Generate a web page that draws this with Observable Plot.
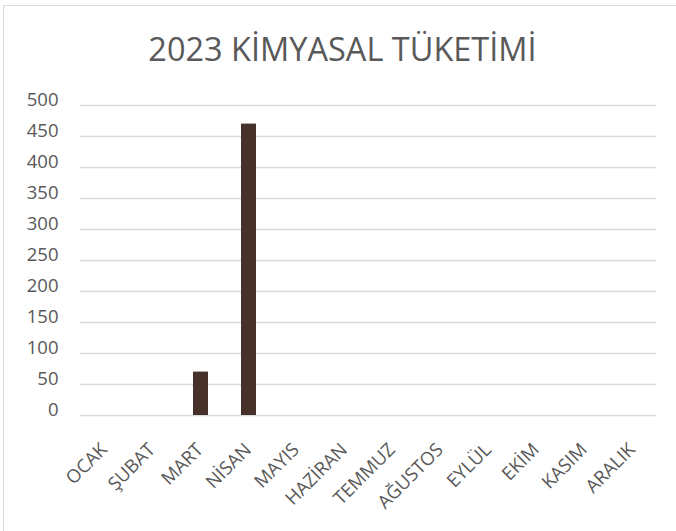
<!DOCTYPE html>
<html>
<head>
<meta charset="utf-8">
<script src="https://cdn.jsdelivr.net/npm/d3@7"></script>
<script src="https://cdn.jsdelivr.net/npm/@observablehq/plot@0.6"></script>
<style>
  html, body { margin: 0; padding: 0; background: #fff; }
  #wrap { position: relative; width: 676px; height: 531px; overflow: hidden; font-family: "Open Sans", sans-serif; }
  #frame { position: absolute; left: 3px; top: 5px; width: 700px; height: 600px; border-left: 1.5px solid #d9d9d9; border-top: 1.5px solid #d9d9d9; box-sizing: border-box; }
  #title { position: absolute; left: 0; width: 685px; top: 26px; text-align: center; font-size: 32.5px; color: #595959; white-space: nowrap; }
  #chart { position: absolute; left: 0; top: 0; }
</style>
</head>
<body>
<div id="wrap">
  <div id="frame"></div>
  <div id="chart"></div>
  <div id="title"></div>
</div>
<script>
const title = "2023 KİMYASAL TÜKETİMİ";
const months = ["OCAK", "ŞUBAT", "MART", "NİSAN", "MAYIS", "HAZİRAN", "TEMMUZ", "AĞUSTOS", "EYLÜL", "EKİM", "KASIM", "ARALIK"];
const values = [0, 0, 70, 470, 0, 0, 0, 0, 0, 0, 0, 0];
const yTicks = [0, 50, 100, 150, 200, 250, 300, 350, 400, 450, 500];

const data = months.map((m, i) => ({ month: m, value: values[i] }));
document.getElementById("title").textContent = title;

const chart = Plot.plot({
  width: 676,
  height: 531,
  marginTop: 105,
  marginBottom: 116,
  marginLeft: 80,
  marginRight: 20,
  style: { fontFamily: "Open Sans, sans-serif", color: "#595959", background: "transparent" },
  x: { domain: months, paddingInner: 0.6875, paddingOuter: 0.34375, label: null, axis: null },
  y: { domain: [0, 500], label: null },
  marks: [
    Plot.gridY(yTicks, { stroke: "#d9d9d9", strokeOpacity: 1, strokeWidth: 1.3 }),
    Plot.barY(data, { x: "month", y: "value", fill: "#46322b" }),
    Plot.axisY(yTicks, { tickSize: 0, tickPadding: 22, fontSize: 18.5, dy: -5, fill: "#595959" }),
    Plot.text(months, {
      x: d => d,
      frameAnchor: "bottom",
      rotate: -45,
      textAnchor: "end",
      lineAnchor: "top",
      dx: -6,
      dy: 26,
      fontSize: 18.5,
      fill: "#595959"
    })
  ]
});
document.getElementById("chart").appendChild(chart);
</script>
</body>
</html>
